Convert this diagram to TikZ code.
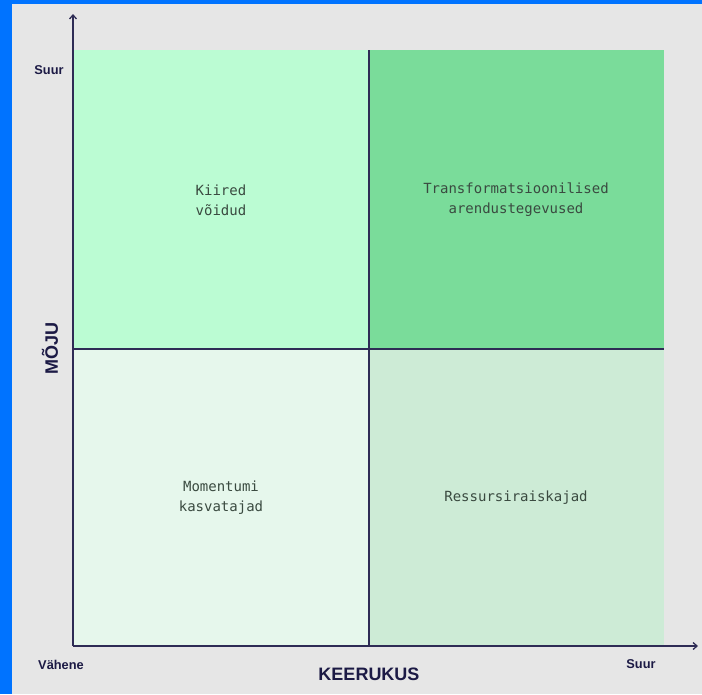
\documentclass[tikz,border=0pt]{standalone}
\usepackage{fontspec}
\setmainfont{Liberation Sans}
\setmonofont{DejaVu Sans Mono}
\usetikzlibrary{arrows.meta}
\definecolor{bg}{HTML}{E6E6E6}
\definecolor{edge}{HTML}{0073FF}
\definecolor{tl}{HTML}{BBFCD3}
\definecolor{tr}{HTML}{7ADC9A}
\definecolor{bl}{HTML}{E6F7EC}
\definecolor{br}{HTML}{CDEBD6}
\definecolor{axis}{HTML}{2E2C55}
\definecolor{ink}{HTML}{1C1A45}
\definecolor{qtext}{HTML}{3A4A40}
\tikzset{
  quad/.style={font=\ttfamily\fontsize{14}{20}\selectfont, text=qtext, align=center},
  lab/.style={font=\bfseries\fontsize{12.8}{14}\selectfont, text=ink},
  axislab/.style={font=\bfseries\fontsize{18}{20}\selectfont, text=ink},
  axisline/.style={draw=axis, line width=1.3pt},
}
\begin{document}
\begin{tikzpicture}[x=1pt,y=-1pt]
\useasboundingbox (0,0) rectangle (702,694);
\fill[edge] (0,0) rectangle (702,694);
\fill[bg] (12,4) rectangle (702,694);
% quadrants
\fill[tl] (73,50) rectangle (369,349);
\fill[tr] (369,50) rectangle (664,349);
\fill[bl] (73,349) rectangle (369,646);
\fill[br] (369,349) rectangle (664,646);
% dividers
\coordinate (vt) at (369,50);
\coordinate (vb) at (369,646);
\coordinate (hl) at (73,349);
\coordinate (hr) at (664,349);
\draw[axisline] (vt) -- (vb);
\draw[axisline] (hl) -- (hr);
% axes
\coordinate (o) at (73,646);
\coordinate (ytip) at (73,14);
\coordinate (xtip) at (698,646);
\draw[axisline, -{Straight Barb[length=4pt,width=7pt]}] (o) -- (ytip);
\draw[axisline, -{Straight Barb[length=4pt,width=7pt]}] (o) -- (xtip);
% quadrant labels
\node[quad] (q1) at (221,200) {Kiired\\võidud};
\node[quad] (q2) at (516,200) {Transformatsioonilised\\arendustegevused};
\node[quad] (q3) at (221,498) {Momentumi\\kasvatajad};
\node[quad] (q4) at (516,498) {Ressursiraiskajad};
% axis labels
\node[lab] (ysuur) at (49,70) {Suur};
\node[lab] (vahene) at (61,665) {Vähene};
\node[lab] (xsuur) at (641,664) {Suur};
\node[axislab] (kee) at (369,674) {KEERUKUS};
\node[axislab, rotate=90] (moju) at (50,348) {MÕJU};
\end{tikzpicture}
\end{document}
